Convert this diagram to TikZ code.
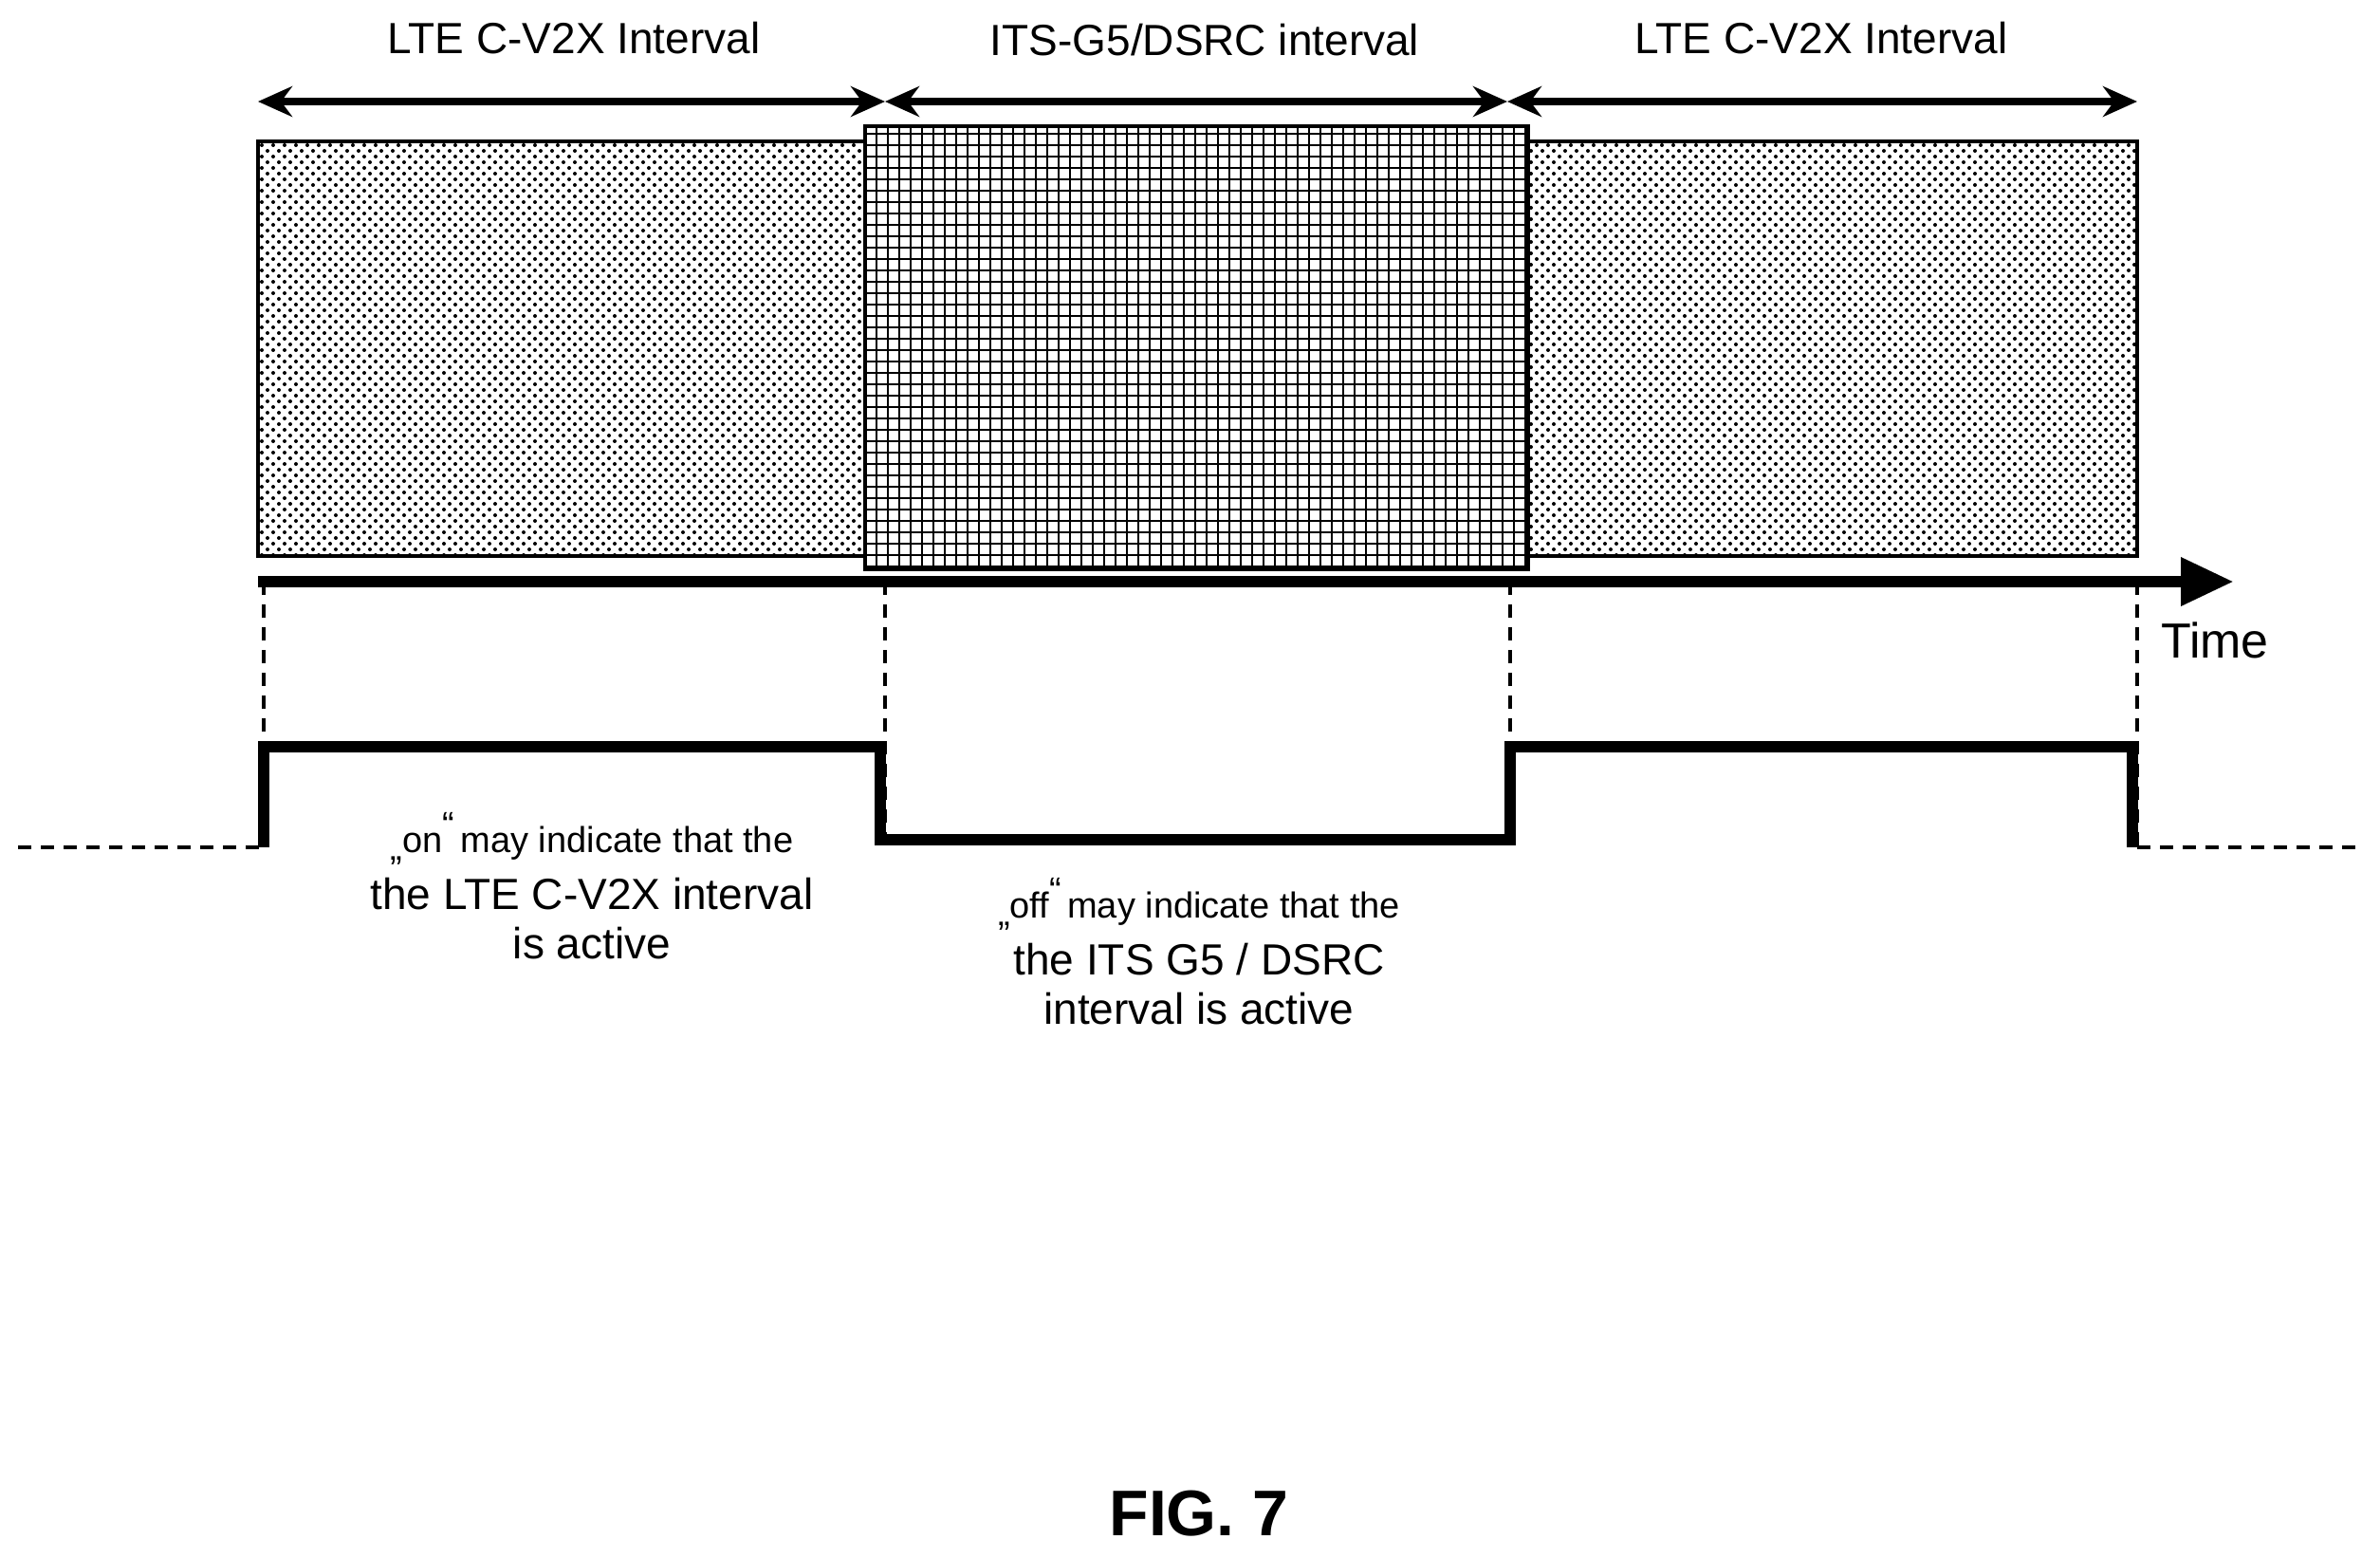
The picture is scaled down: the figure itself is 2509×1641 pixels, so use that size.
\documentclass[tikz,border=0pt]{standalone}
\usepackage{fontspec}
\setmainfont{Liberation Sans}
\usetikzlibrary{patterns,arrows.meta}
\begin{document}
\begin{tikzpicture}[x=0.25pt,y=-0.25pt,font=\fontsize{11.5}{13}\selectfont,
	lbl/.style={align=center,inner sep=0pt},
	span/.style={{Stealth[length=9pt,width=8pt]}-{Stealth[length=9pt,width=8pt]},line width=2.2pt},
	guide/.style={dash pattern=on 3.5pt off 2.5pt,line width=0.8pt}]
	\useasboundingbox (0,0) rectangle (2509,1641);

	% interval boxes
	\draw[pattern=crosshatch dots,line width=0.8pt] (272,149) rectangle (912,586);
	\draw[pattern=crosshatch dots,line width=0.8pt] (1611,149) rectangle (2253,586);
	\draw[pattern=grid,line width=1.2pt] (912,133) rectangle (1611,600);

	% time axis
	\draw[-{Triangle[length=14pt,width=12pt]},line width=3.2pt] (272,613) -- (2355,613);
	\node[lbl,font=\fontsize{13}{15}\selectfont] (time) at (2335,675) {Time};

	% interval arrows
	\coordinate (t0) at (272,107);
	\coordinate (t1) at (933,107);
	\coordinate (t2) at (1589,107);
	\coordinate (t3) at (2253,107);
	\draw[span] (t0) -- (t1);
	\draw[span] (t1) -- (t2);
	\draw[span] (t2) -- (t3);
	\node[lbl] (lte1) at (605,40) {LTE C-V2X Interval};
	\node[lbl] (its) at (1270,42) {ITS-G5/DSRC interval};
	\node[lbl] (lte2) at (1920,40) {LTE C-V2X Interval};

	% guide lines
	\foreach \x in {278,933,1592,2253}
		\draw[guide] (\x,613) -- (\x,893);
	\draw[guide] (19,893) -- (278,893);
	\draw[guide] (2253,893) -- (2488,893);

	% on/off signal
	\draw[line width=3pt] (278,893) -- (278,787) -- (928,787) -- (928,885)
		-- (1592,885) -- (1592,787) -- (2248,787) -- (2248,893);

	\node[lbl] (on) at (624,934) {{\fontsize{9.5}{12}\selectfont\raisebox{-2pt}{„}on\raisebox{4pt}{“}\,may indicate that the}\\[2pt]the LTE C-V2X interval\\is active};
	\node[lbl] (off) at (1264,1003) {{\fontsize{9.5}{12}\selectfont\raisebox{-2pt}{„}off\raisebox{4pt}{“}\,may indicate that the}\\[2pt]the ITS G5 / DSRC\\interval is active};

	\node[lbl,font=\bfseries\fontsize{17}{20}\selectfont] (fig) at (1264,1595) {FIG. 7};
\end{tikzpicture}
\end{document}
